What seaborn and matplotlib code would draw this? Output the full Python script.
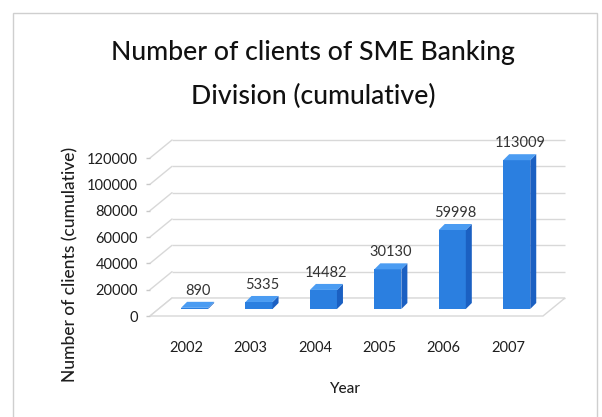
import matplotlib
matplotlib.use("Agg")
import matplotlib.pyplot as plt
from matplotlib.patches import Polygon, Rectangle
import seaborn as sns

# Data
years = ["2002", "2003", "2004", "2005", "2006", "2007"]
clients = [890, 5335, 14482, 30130, 59998, 113009]
y_ticks = [0, 20000, 40000, 60000, 80000, 100000, 120000]
title_lines = ["Number of clients of SME Banking", "Division (cumulative)"]
x_label = "Year"
y_label = "Number of clients (cumulative)"

FRONT = "#2b7fe0"
SIDE = "#1b60c2"
TOP = "#4b9cf2"
GRID = "#d8d8d8"
TEXT = "#1e1e1e"
FONT = "Lato"

sns.set_theme(style="white")
plt.rcParams["font.family"] = [FONT, "DejaVu Sans"]

W, H, DPI = 602, 417, 100
fig = plt.figure(figsize=(W / DPI, H / DPI), dpi=DPI)

# outer chart frame
fig.patches.append(Rectangle((13 / W, -0.02), (597 - 13) / W, (H - 13) / H + 0.02,
                             transform=fig.transFigure, fill=False,
                             edgecolor="#cfcfcf", lw=1.0))

# plot area (front plane of the 3D box)
ax_l, ax_r, ax_t, ax_b = 150, 543, 158, 316
ax = fig.add_axes([ax_l / W, (H - ax_b) / H, (ax_r - ax_l) / W, (ax_b - ax_t) / H])

sns.barplot(x=years, y=clients, color=FRONT, saturation=1, width=0.42,
            ax=ax, zorder=3, edgecolor="none")

xmin, xmax = -0.56, 5.54
ax.set_xlim(xmin, xmax)
ax.set_ylim(0, 120000)

# pixel -> data unit conversions
ux = (xmax - xmin) / (ax_r - ax_l)
uy = 120000 / (ax_b - ax_t)

# 3D box: back wall depth, bar offset and bar depth (pixels)
wall_dx, wall_dy = 22, 18
bar_dx, bar_dy = 8.5, 7
dep_x, dep_y = 6, 6

# floor
floor = Polygon([(xmin, 0), (xmax, 0), (xmax + wall_dx * ux, wall_dy * uy),
                 (xmin + wall_dx * ux, wall_dy * uy)], closed=True,
                facecolor="white", edgecolor=GRID, lw=1.0, zorder=1, clip_on=False)
ax.add_patch(floor)

# back wall gridlines and side wall lines
for yv in y_ticks:
    yb = yv + wall_dy * uy
    ax.plot([xmin + wall_dx * ux, xmax + wall_dx * ux], [yb, yb], color=GRID,
            lw=1.0, zorder=0.5, clip_on=False, solid_capstyle="butt")
    ax.plot([xmin, xmin + wall_dx * ux], [yv, yb], color=GRID, lw=1.0,
            zorder=0.5, clip_on=False)

# extrude bars into 3D
for p, val in zip(ax.patches, clients):
    if not hasattr(p, "get_width"):
        continue
    x0 = p.get_x() + bar_dx * ux
    w = p.get_width()
    y0 = bar_dy * uy
    p.set_x(x0)
    p.set_y(y0)
    p.set_clip_on(False)
    h = p.get_height()
    x1 = x0 + w
    dX, dY = dep_x * ux, dep_y * uy
    side = Polygon([(x1, y0), (x1 + dX, y0 + dY), (x1 + dX, y0 + h + dY), (x1, y0 + h)],
                   closed=True, facecolor=SIDE, edgecolor="none", zorder=3, clip_on=False)
    top = Polygon([(x0, y0 + h), (x1, y0 + h), (x1 + dX, y0 + h + dY), (x0 + dX, y0 + h + dY)],
                  closed=True, facecolor=TOP, edgecolor="none", zorder=3, clip_on=False)
    ax.add_patch(side)
    ax.add_patch(top)
    ax.annotate(f"{val}", xy=(x0 + w / 2 + dX / 2, y0 + h + dY), xytext=(0, 8),
                textcoords="offset points", ha="center", va="center",
                fontsize=10.5, color="#333333", zorder=5, annotation_clip=False)

# axes styling
for s in ax.spines.values():
    s.set_visible(False)
ax.set_yticks(y_ticks)
ax.set_yticklabels([str(t) for t in y_ticks])
ax.tick_params(axis="y", left=True, length=3, width=1, color="#c8c8c8", pad=5.5,
               labelsize=10.5, labelcolor=TEXT)
ax.tick_params(axis="x", bottom=False, length=0, pad=18, labelsize=10.5, labelcolor=TEXT)
ax.set_xlabel("")
ax.set_ylabel("")
ax.grid(False)

fig.text(345 / W, (H - 389) / H, x_label, ha="center", va="center",
         fontsize=11, color=TEXT, fontweight="medium")
fig.text(70 / W, (H - 264) / H, y_label, ha="center", va="center", rotation=90,
         fontsize=12.5, color=TEXT, fontweight="medium")

fig.text(313 / W, (H - 60) / H, title_lines[0], ha="center", va="baseline",
         fontsize=19.2, color="#111111", fontweight="medium")
fig.text(313 / W, (H - 104) / H, title_lines[1], ha="center", va="baseline",
         fontsize=19.2, color="#111111", fontweight="medium")

fig.savefig("out.png", dpi=DPI, facecolor="white")
